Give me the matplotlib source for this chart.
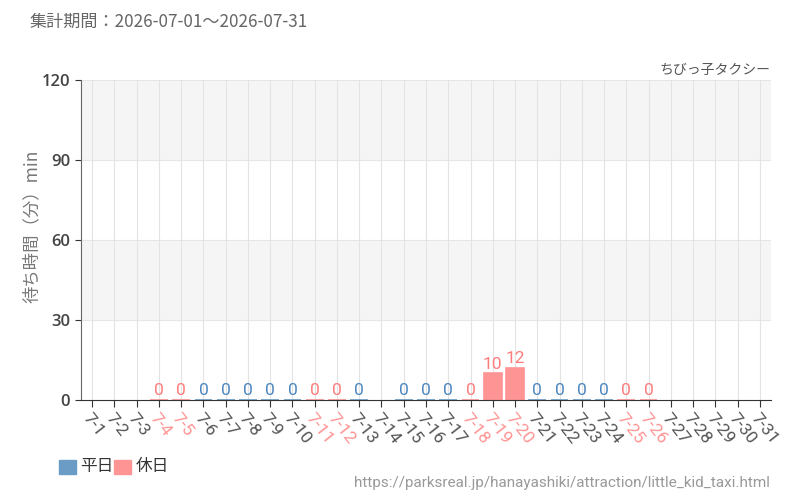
import matplotlib.pyplot as plt
import numpy as np

plt.rcParams['font.family'] = ['Noto Sans CJK JP', 'DejaVu Sans']

days = [f"7-{d}" for d in range(1, 32)]
# waiting time in minutes, nan = no data
waits = [np.nan, np.nan, np.nan, 0, 0, 0, 0, 0, 0, 0, 0, 0, 0, np.nan, 0, 0, 0, 0,
         10, 12, 0, 0, 0, 0, 0, 0, np.nan, np.nan, np.nan, np.nan, np.nan]
holidays = [4, 5, 11, 12, 18, 19, 20, 25, 26]

blue = "#6a9cc5"
red = "#ff9494"
blue_txt = "#4d87bf"
red_txt = "#ff7c7c"
gray = "#555555"

fig = plt.figure(figsize=(8, 5), dpi=100)
ax = fig.add_axes([81/800, 100/500, 690/800, 320/500])

x = np.arange(len(days))
is_hol = [(i + 1) in holidays for i in x]

# alternating bands
for lo, hi in [(30, 60), (90, 120)]:
    ax.axhspan(lo, hi, color="#f5f5f5", zorder=0, lw=0)
for yv in [30, 60, 90, 120]:
    ax.axhline(yv, color="#e6e6e6", lw=0.8, zorder=0.5)
for xi in x:
    ax.axvline(xi, color="#e3e3e3", lw=0.8, zorder=0.5)

for xi, v, h in zip(x, waits, is_hol):
    if np.isnan(v):
        continue
    c = red if h else blue
    ax.bar(xi, v, width=0.8, color=c, edgecolor=c, lw=1.2, zorder=2)
    ax.text(xi, v + 0.6, f"{int(v)}", ha="center", va="bottom", fontsize=12.5,
            color=red_txt if h else blue_txt, family="Roboto", zorder=3)

ax.set_xlim(-0.5, len(days) - 0.5)
ax.set_ylim(0, 120)
ax.set_yticks([0, 30, 60, 90, 120])
ax.set_yticklabels(["0", "30", "60", "90", "120"], fontsize=12, color="#444444",
                   fontweight="semibold", family="Open Sans")
ax.set_xticks(x)
ax.set_xticklabels(days, rotation=-52, ha="left", va="top", rotation_mode="anchor",
                   fontsize=12.5, family="Roboto")
for lab, h in zip(ax.get_xticklabels(), is_hol):
    lab.set_color(red if h else gray)
ax.tick_params(axis="x", length=5, color="#333333", pad=3)
ax.tick_params(axis="y", length=4, color="#333333", pad=4)

for s in ["top", "right"]:
    ax.spines[s].set_visible(False)
ax.spines["left"].set_color("#666666")
ax.spines["bottom"].set_color("#333333")

fig.text(32/800, 1 - 226/500, "待ち時間（分）min", fontsize=12.5, color="#777777",
         rotation=90, ha="center", va="center")

fig.text(30/800, 1 - 22/500, "集計期間：2026-07-01～2026-07-31", fontsize=12.3,
         color="#666666", va="center", ha="left")
fig.text(770/800, 1 - 70/500, "ちびっ子タクシー", fontsize=10, color="#555555",
         va="center", ha="right")

# legend
fig.patches.append(plt.Rectangle((59/800, 1 - 474/500), 17/800, 14/500,
                                 transform=fig.transFigure, color=blue))
fig.text(80/800, 1 - 467/500, "平日", fontsize=12, color="#333333", va="center")
fig.patches.append(plt.Rectangle((114/800, 1 - 474/500), 17/800, 14/500,
                                 transform=fig.transFigure, color=red))
fig.text(136/800, 1 - 467/500, "休日", fontsize=12, color="#333333", va="center")

fig.text(770/800, 1 - 483/500, "https://parksreal.jp/hanayashiki/attraction/little_kid_taxi.html",
         fontsize=11, color="#999999", ha="right", va="center", family="Roboto")

plt.savefig("out.png", dpi=100)
